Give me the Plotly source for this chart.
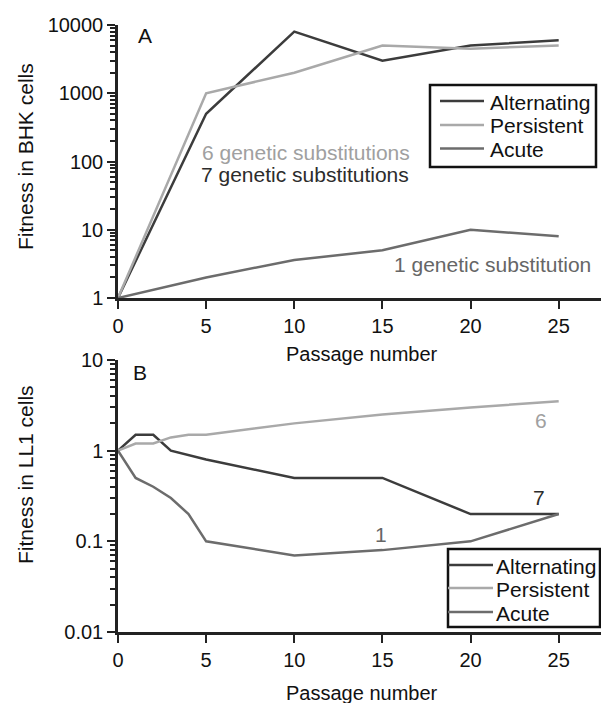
import math
import plotly.graph_objects as go

# ---- data ----
passage_A = [0, 5, 10, 15, 20, 25]
alt_A = [1, 500, 8000, 3000, 5000, 6000]
per_A = [1, 1000, 2000, 5000, 4500, 5000]
acu_A = [1, 2, 3.6, 5, 10, 8]

passage_alt_B = [0, 1, 2, 3, 5, 10, 15, 20, 25]
alt_B = [1, 1.5, 1.5, 1.0, 0.8, 0.5, 0.5, 0.2, 0.2]
passage_per_B = [0, 1, 2, 3, 4, 5, 10, 15, 20, 25]
per_B = [1, 1.2, 1.2, 1.4, 1.5, 1.5, 2.0, 2.5, 3.0, 3.5]
passage_acu_B = [0, 1, 2, 3, 4, 5, 10, 15, 20, 25]
acu_B = [1, 0.5, 0.4, 0.3, 0.2, 0.1, 0.07, 0.08, 0.1, 0.2]

series_names = ["Alternating", "Persistent", "Acute"]
colors = ["#3c3c3c", "#a9a9a9", "#6c6c6c"]

x_ticks = [0, 5, 10, 15, 20, 25]
yA_ticks = [1, 10, 100, 1000, 10000]
yA_text = ["1", "10", "100", "1000", "10000"]
yB_ticks = [0.01, 0.1, 1, 10]
yB_text = ["0.01", "0.1", "1", "10"]

W, H = 601, 703
L = 118
FONT = "Liberation Sans, Arial, sans-serif"
AX = "#222222"

def px(x):
    return (x - L) / (W - L)

def py(y):
    return 1 - y / H

def minor_vals(lo_exp, hi_exp):
    vals = []
    for e in range(lo_exp, hi_exp):
        for m in range(2, 10):
            vals.append(m * 10 ** e)
    return vals

fig = go.Figure()

dataA = [alt_A, per_A, acu_A]
for name, col, ys in zip(series_names, colors, dataA):
    fig.add_trace(go.Scatter(x=passage_A, y=ys, mode="lines", name=name,
                             line=dict(color=col, width=2.5),
                             xaxis="x", yaxis="y", showlegend=False))

dataB = [(passage_alt_B, alt_B), (passage_per_B, per_B), (passage_acu_B, acu_B)]
for name, col, (xs, ys) in zip(series_names, colors, dataB):
    fig.add_trace(go.Scatter(x=xs, y=ys, mode="lines", name=name,
                             line=dict(color=col, width=2.5),
                             xaxis="x2", yaxis="y2", showlegend=False))

xcommon = dict(range=[0, 27.4], showgrid=False, zeroline=False, showline=True,
               linecolor=AX, linewidth=2.5, ticks="outside", ticklen=8,
               tickwidth=2, tickcolor=AX, tickvals=x_ticks, automargin=False,
               tickfont=dict(size=20, color="#111", family=FONT))
ycommon = dict(type="log", showgrid=False, zeroline=False, showline=True,
               linecolor=AX, linewidth=2.5, ticks="outside", ticklen=8,
               tickwidth=2, tickcolor=AX, automargin=False,
               tickfont=dict(size=20, color="#111", family=FONT))

fig.update_layout(
    template="none",
    width=W, height=H,
    margin=dict(l=L, r=0, t=0, b=0, pad=0),
    paper_bgcolor="white", plot_bgcolor="white",
    font=dict(family=FONT, size=20, color="#111"),
    showlegend=False,
    xaxis=dict(**xcommon, domain=[0, 1], anchor="y"),
    yaxis=dict(**ycommon, domain=[py(298), py(25)], anchor="x",
               range=[0, 4], tickvals=yA_ticks, ticktext=yA_text,
               minor=dict(tickvals=minor_vals(0, 4), ticks="outside",
                          ticklen=5, tickwidth=2, tickcolor=AX)),
    xaxis2=dict(**xcommon, domain=[0, 1], anchor="y2"),
    yaxis2=dict(**ycommon, domain=[py(632), py(360)], anchor="x2",
                range=[-2, 1], tickvals=yB_ticks, ticktext=yB_text,
                minor=dict(tickvals=minor_vals(-2, 1), ticks="outside",
                           ticklen=5, tickwidth=2, tickcolor=AX)),
)

# reference line at fitness = 1 in panel B
fig.add_shape(type="line", xref="x2 domain", yref="y2", x0=0, x1=1,
              y0=math.log10(1), y1=math.log10(1),
              line=dict(color="#444444", width=1.5), layer="below")

def ann(text, x, y, color="#111", angle=0, xanchor="center", size=21):
    fig.add_annotation(text=text, x=px(x), y=py(y), xref="paper", yref="paper",
                       showarrow=False, textangle=angle, xanchor=xanchor,
                       yanchor="middle",
                       font=dict(size=size, color=color, family=FONT))

# ---- legends (box, sample lines, labels) ----
def legend_box(x0, x1, y0, y1, line_x0, line_x1, text_x, rows):
    fig.add_shape(type="rect", xref="paper", yref="paper",
                  x0=px(x0), x1=px(x1), y0=py(y1), y1=py(y0),
                  line=dict(color="#111", width=2.5), fillcolor="white",
                  layer="above")
    for name, col, yr in zip(series_names, colors, rows):
        fig.add_shape(type="line", xref="paper", yref="paper",
                      x0=px(line_x0), x1=px(line_x1), y0=py(yr), y1=py(yr),
                      line=dict(color=col, width=2.5), layer="above")
        ann(name, text_x, yr + 1, xanchor="left")

legend_box(430, 596, 85, 167, 440, 484, 488, [101, 125, 148.5])
legend_box(448, 600, 549, 627, 448, 493, 494, [565, 588, 612])

ann("A", 145, 35)
ann("B", 140, 372)
ann("6 genetic substitutions", 200, 152, "#a0a0a0", xanchor="left")
ann("7 genetic substitutions", 199, 174, "#2c2c2c", xanchor="left")
ann("1 genetic substitution", 392, 264, "#666666", xanchor="left")
ann("6", 541, 420, "#a0a0a0")
ann("7", 539, 497, "#2c2c2c")
ann("1", 381, 534, "#666666")
ann("Passage number", 362, 354, size=20)
ann("Passage number", 362, 693, size=20)
ann("Fitness in BHK cells", 25, 157, angle=-90)
ann("Fitness in LL1 cells", 25, 475, angle=-90)

fig.write_html("out.html")
